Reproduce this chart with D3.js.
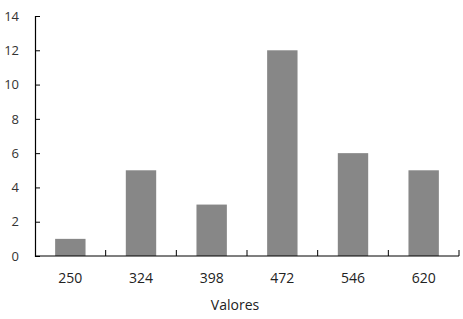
<!DOCTYPE html>
<html>
<head>
<meta charset="utf-8">
<script src="https://cdn.jsdelivr.net/npm/d3@7"></script>
<style>
  body { margin: 0; background: #fff; }
  text { font-family: "Open Sans", sans-serif; font-size: 14px; fill: #222; }
</style>
</head>
<body>
<svg id="chart"></svg>
<script>
const categories = ['250', '324', '398', '472', '546', '620'];
const counts = [1, 5, 3, 12, 6, 5];
const yTicks = [0, 2, 4, 6, 8, 10, 12, 14];

const global_width = 463,
  global_height = 319;
const margin = {top: 16, right: 4, bottom: 63, left: 35};
const width = global_width - margin.left - margin.right,
  height = global_height - margin.top - margin.bottom;

const svg = d3.select('#chart')
  .attr('width', global_width)
  .attr('height', global_height);

const plot = svg.append('g')
  .attr('transform', `translate(${margin.left},${margin.top})`);

const x = d3.scaleBand().domain(categories).range([0, width]).paddingInner(0.57).paddingOuter(0.285);
const xCat = d3.scaleBand().domain(categories).range([0, width]);
const y = d3.scaleLinear().domain([0, 14]).range([height, 0]);

// bars
plot.selectAll('rect.bar')
  .data(counts)
  .enter()
  .append('rect')
  .attr('class', 'bar')
  .attr('x', (d, i) => x(categories[i]))
  .attr('y', d => y(d))
  .attr('width', x.bandwidth())
  .attr('height', d => height - y(d))
  .attr('fill', '#878787');

// y axis, ticks pointing inward
const yAxis = plot.append('g')
  .call(d3.axisLeft(y).tickValues(yTicks).tickSize(-5).tickPadding(16));
yAxis.select('.domain').attr('stroke', '#000').attr('stroke-width', 1.2);
yAxis.selectAll('.tick line').attr('stroke', '#000');
yAxis.selectAll('text').style('font-size', '13px').style('fill', '#333');

// x axis line + boundary ticks
const xAxis = plot.append('g').attr('transform', `translate(0,${height})`);
xAxis.append('line')
  .attr('x1', 0).attr('x2', width)
  .attr('stroke', '#000').attr('stroke-width', 1.2);
xAxis.selectAll('line.sep')
  .data(categories)
  .enter()
  .append('line')
  .attr('class', 'sep')
  .attr('x1', d => xCat(d) + xCat.bandwidth())
  .attr('x2', d => xCat(d) + xCat.bandwidth())
  .attr('y1', 0).attr('y2', -6)
  .attr('stroke', '#000');
xAxis.selectAll('text.lbl')
  .data(categories)
  .enter()
  .append('text')
  .attr('class', 'lbl')
  .attr('x', d => xCat(d) + xCat.bandwidth() / 2)
  .attr('y', 27)
  .attr('text-anchor', 'middle')
  .text(d => d);

// axis title
svg.append('text')
  .attr('x', 235)
  .attr('y', 310)
  .attr('text-anchor', 'middle')
  .text('Valores');
</script>
</body>
</html>
